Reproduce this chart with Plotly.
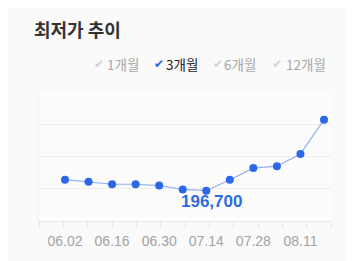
import plotly.graph_objects as go

# ---- data ----
dates = ["06.02", "06.09", "06.16", "06.23", "06.30", "07.07",
         "07.14", "07.21", "07.28", "08.04", "08.11", "08.18"]
prices = [198400, 198100, 197700, 197700, 197500, 196900,
          196700, 198400, 200200, 200500, 202400, 207700]
periods = ["1개월", "3개월", "6개월", "12개월"]
selected_period = "3개월"
title_text = "최저가 추이"

# page body has an 8px margin: work in window coords, convert to figure coords
OFF = 8
WIN_W, WIN_H = 354, 261
W, H = WIN_W - OFF, WIN_H - OFF
PL, PR, PT, PB = 39, 331, 92, 223          # plot box in window coords
L, T = PL - OFF, PT - OFF
R, B = W - (PR - OFF), H - (PB - OFF)
PW, PH = PR - PL, PB - PT

def px(x):
    return (x - PL) / PW

def py(y):
    return (PB - y) / PH

idx = list(range(len(dates)))
min_i = prices.index(min(prices))

fig = go.Figure()
fig.add_trace(go.Scatter(
    x=idx, y=prices, mode="lines+markers",
    line=dict(color="#8fb1f1", width=1.2),
    marker=dict(color="#2b67e6", size=8),
    hoverinfo="skip", showlegend=False,
))
fig.add_trace(go.Scatter(x=[0, 12], y=[prices[0], prices[0]], xaxis="x2",
                         mode="markers", marker=dict(opacity=0),
                         hoverinfo="skip", showlegend=False))

fig.add_annotation(
    x=min_i, y=prices[min_i], xref="x", yref="y",
    text=f"{prices[min_i]:,}", showarrow=False,
    xanchor="center", yanchor="middle", xshift=5, yshift=-11,
    font=dict(family="Liberation Sans", size=17, color="#2d6be4", weight="bold"),
)

check_x = [92, 151.5, 211, 270]
text_x = [105, 164, 222, 284]
for p, cx, tx in zip(periods, check_x, text_x):
    sel = p == selected_period
    fig.add_annotation(
        x=px(cx), y=py(64), xref="paper", yref="paper", text="✔",
        showarrow=False, xanchor="left", yanchor="middle",
        font=dict(family="DejaVu Sans", size=12,
                  color="#2e63d8" if sel else "#d4d4d4"),
    )
    fig.add_annotation(
        x=px(tx), y=py(63.5), xref="paper", yref="paper", text=p,
        showarrow=False, xanchor="left", yanchor="middle",
        font=dict(family="Noto Sans CJK KR", size=13.5,
                  color="#222222" if sel else "#a8a8a8"),
    )

x0, x11 = 65, 324
step = (x11 - x0) / 11
fig.update_layout(
    width=W, height=H,
    margin=dict(l=L, r=R, t=T, b=B, pad=0),
    paper_bgcolor="#fafafa", plot_bgcolor="#fcfcfc",
    title=dict(text=title_text, x=(34 - OFF) / W, xanchor="left",
               y=1 - (31 - OFF) / H, yanchor="middle",
               font=dict(family="Noto Sans CJK KR", size=18, color="#333333",
                         weight="bold")),
    xaxis=dict(
        range=[-(x0 - PL) / step, 11 + (PR - x11) / step],
        tickvals=idx[::2], ticktext=dates[::2],
        ticks="outside", ticklen=7, tickcolor="rgba(0,0,0,0)",
        tickfont=dict(family="Liberation Sans", size=14, color="#a3a3a3"),
        showgrid=False, zeroline=False,
        showline=True, linecolor="#e8e8e8", linewidth=1,
        fixedrange=True,
    ),
    xaxis2=dict(
        overlaying="x", side="bottom", range=[0, 12],
        tickvals=list(range(13)), ticks="outside", ticklen=7,
        tickcolor="#e6e6e6", tickwidth=1, showticklabels=False,
        showgrid=False, zeroline=False, showline=False,
    ),
    yaxis=dict(
        range=[192000, 212000], dtick=5000, tick0=192000,
        showticklabels=False, showgrid=True, gridcolor="#ededed",
        gridwidth=1, zeroline=False,
        showline=True, linecolor="#f0f0f0", linewidth=1,
    ),
)

fig.write_html("out.html")
